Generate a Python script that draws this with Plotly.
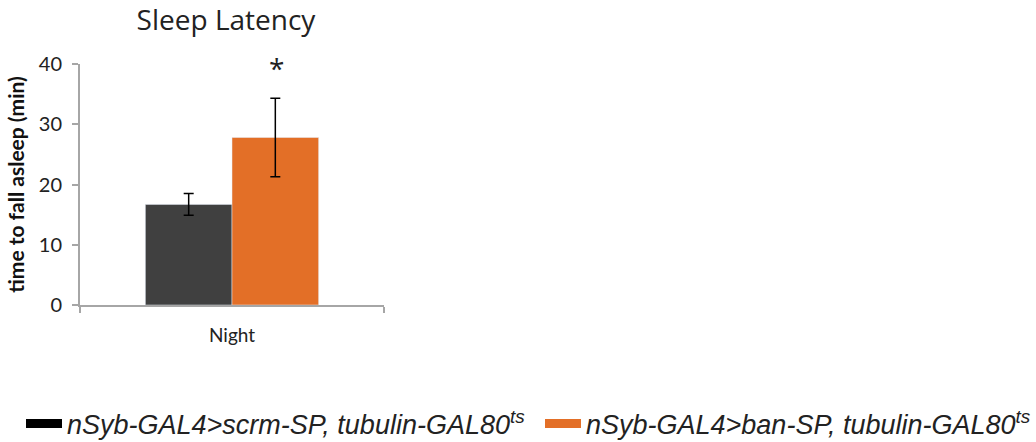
import plotly.graph_objects as go

categories = ["Night"]
series_names = ["nSyb-GAL4>scrm-SP, tubulin-GAL80<sup>ts</sup>",
                "nSyb-GAL4>ban-SP, tubulin-GAL80<sup>ts</sup>"]
control_vals = [16.7]
control_err = [1.8]
ban_vals = [27.8]
ban_err = [6.5]
y_ticks = [0, 10, 20, 30, 40]

dark = "#404040"
orange = "#E36F27"
axis_col = "#A6A6A6"

fig = go.Figure()
fig.add_trace(go.Bar(x=categories, y=control_vals, marker_color=dark, showlegend=False,
                     error_y=dict(type="data", array=control_err, color="black", thickness=1.5, width=5)))
fig.add_trace(go.Bar(x=categories, y=ban_vals, marker_color=orange, showlegend=False,
                     error_y=dict(type="data", array=ban_err, color="black", thickness=1.5, width=5)))
# legend entries
fig.add_trace(go.Scatter(x=[None], y=[None], mode="lines", name=series_names[0],
                         line=dict(color="black", width=9), legend="legend"))
fig.add_trace(go.Scatter(x=[None], y=[None], mode="lines", name=series_names[1],
                         line=dict(color=orange, width=9), legend="legend2"))

fig.add_annotation(x=0.645, xref="paper", y=39.3, yref="y", text="*", showarrow=False,
                   font=dict(size=28, color="#222222", family="Open Sans"))

leg_font = dict(family="Liberation Sans", size=27, color="#222222", style="italic")

fig.update_layout(
    width=1036, height=442,
    margin=dict(l=80, r=652, t=64, b=137),
    paper_bgcolor="white", plot_bgcolor="white",
    barmode="group", bargap=0.43, bargroupgap=0,
    title=dict(text="Sleep Latency", x=226/1036, xanchor="center", y=1 - 20/442, yanchor="middle",
               font=dict(family="Open Sans", size=28, color="#222222")),
    legend=dict(orientation="h", xref="container", yref="container", x=21/1036, xanchor="left",
                y=1 - 424/442, yanchor="middle",
                font=leg_font, itemwidth=36, bgcolor="rgba(0,0,0,0)"),
    legend2=dict(orientation="h", xref="container", yref="container", x=540/1036, xanchor="left",
                 y=1 - 424/442, yanchor="middle",
                 font=leg_font, itemwidth=36, bgcolor="rgba(0,0,0,0)"),
    xaxis=dict(showline=True, linecolor=axis_col, linewidth=2, ticks="outside",
               tickson="boundaries", ticklen=6, tickcolor=axis_col, tickwidth=2,
               tickfont=dict(family="Lato", size=19, color="#222222"),
               ticklabelstandoff=12, showgrid=False, zeroline=False, automargin=False),
    yaxis=dict(range=[0, 40], tickvals=y_ticks, showline=True, linecolor=axis_col, linewidth=2,
               ticks="outside", ticklen=6, tickcolor=axis_col, tickwidth=2,
               tickfont=dict(family="Lato", size=20, color="#222222"),
               ticklabelstandoff=6, showgrid=False, zeroline=False, automargin=False,
               title=dict(text="<b>time to fall asleep (min)</b>", standoff=8,
                          font=dict(family="Lato", size=21, color="#111111"))),
)

fig.write_html("out.html", config={"displayModeBar": False},
               post_script="document.body.style.margin='0';document.body.style.overflow='hidden';")
